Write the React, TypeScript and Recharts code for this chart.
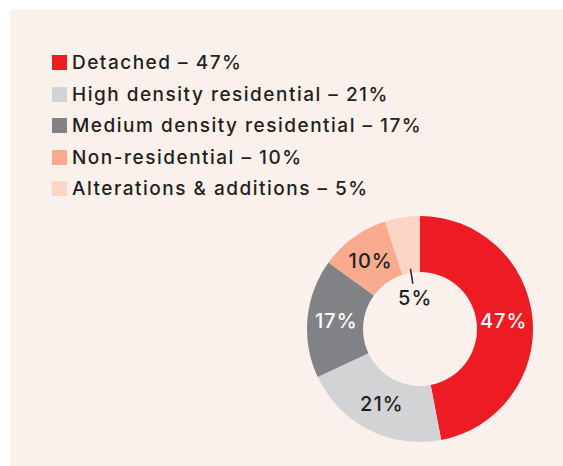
import { Pie, PieChart } from "recharts";

const categories = [
  "Detached",
  "High density residential",
  "Medium density residential",
  "Non-residential",
  "Alterations & additions",
];
const shares = [47, 21, 17, 10, 5];
const colors = ["#ED1C24", "#D1D3D4", "#808285", "#F9AA8F", "#FDD5C4"];
const labelColors = ["#ffffff", "#231F20", "#ffffff", "#231F20", "#231F20"];

const data = categories.map((name, i) => ({
  name,
  value: shares[i],
  fill: colors[i],
}));

const FONT = "Inter, 'Open Sans', sans-serif";
const RAD = Math.PI / 180;

// Slice labels sit mid-ring; the tiny last slice gets pulled into the hole
// with a short leader line.
function SliceLabel(props: any) {
  const { cx, cy, midAngle, index, value } = props;
  const text = `${value}%`;
  const cos = Math.cos(-midAngle * RAD);
  const sin = Math.sin(-midAngle * RAD);
  const common = {
    fill: labelColors[index],
    fontSize: 20,
    fontWeight: 500,
    fontFamily: FONT,
    letterSpacing: 1,
    textAnchor: "middle" as const,
    dominantBaseline: "central" as const,
  };
  if (index === shares.length - 1) {
    return (
      <g>
        <line
          x1={cx + 61 * cos}
          y1={cy + 61 * sin}
          x2={cx + 46 * cos}
          y2={cy + 46 * sin}
          stroke="#231F20"
          strokeWidth={1.5}
        />
        <text x={cx + 31 * cos} y={cy + 31 * sin} {...common}>
          {text}
        </text>
      </g>
    );
  }
  return (
    <text x={cx + 84 * cos} y={cy + 84 * sin} {...common}>
      {text}
    </text>
  );
}

function LegendList() {
  return (
    <div
      style={{
        position: "absolute",
        left: 42,
        top: 37,
        fontFamily: FONT,
        fontSize: 19,
        fontWeight: 500,
        letterSpacing: 1.5,
        color: "#231F20",
      }}
    >
      {categories.map((c, i) => (
        <div
          key={c}
          style={{
            display: "flex",
            alignItems: "center",
            height: 31.5,
            whiteSpace: "nowrap",
          }}
        >
          <span
            style={{
              width: 15,
              height: 15,
              background: colors[i],
              marginRight: 5,
              display: "inline-block",
            }}
          />
          <span>
            {c} – {shares[i]}%
          </span>
        </div>
      ))}
    </div>
  );
}

export default function App() {
  return (
    <div
      style={{
        position: "absolute",
        left: 10,
        top: 10,
        width: 553,
        height: 456,
        background: "#FBF1EC",
      }}
    >
      <LegendList />
      <PieChart
        width={553}
        height={456}
        margin={{ top: 0, right: 0, bottom: 0, left: 0 }}
      >
        <Pie
          data={data}
          dataKey="value"
          nameKey="name"
          cx={410}
          cy={319}
          innerRadius={57}
          outerRadius={113}
          startAngle={90}
          endAngle={-270}
          stroke="none"
          label={SliceLabel}
          labelLine={false}
          isAnimationActive={false}
        />
      </PieChart>
    </div>
  );
}
